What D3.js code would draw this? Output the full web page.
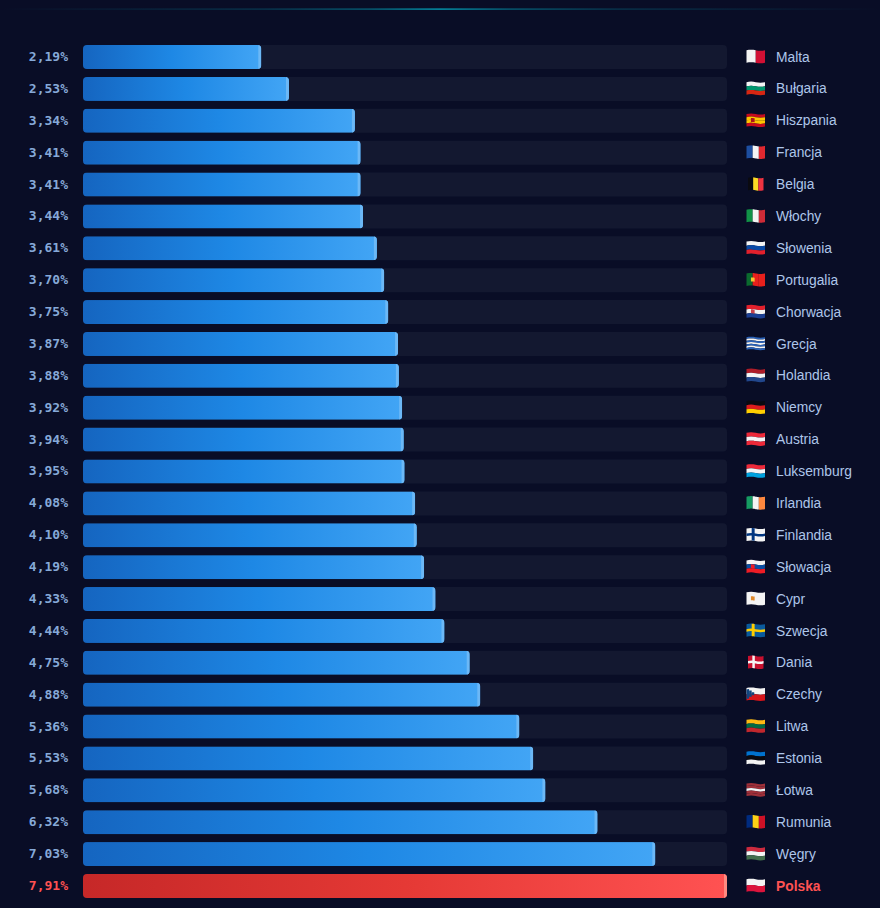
<!DOCTYPE html>
<html lang="pl">
<head>
<meta charset="utf-8">
<title>Kraje UE</title>
<script src="https://cdn.jsdelivr.net/npm/d3@7"></script>
<style>
  html, body { margin: 0; padding: 0; background: #090d26; }
  svg { display: block; }
  .value { font: bold 13px "DejaVu Sans Mono", monospace; fill: #86a9d8; }
  .name { font: 13.8px "Liberation Sans", Arial, sans-serif; fill: #aec6ea; }
  .value.top { fill: #ff5252; }
  .name.top { font-weight: bold; fill: #ff5252; }
</style>
</head>
<body>
<svg id="chart" width="880" height="908"></svg>
<script>
const countries = ["Malta","Bułgaria","Hiszpania","Francja","Belgia","Włochy","Słowenia","Portugalia","Chorwacja","Grecja","Holandia","Niemcy","Austria","Luksemburg","Irlandia","Finlandia","Słowacja","Cypr","Szwecja","Dania","Czechy","Litwa","Estonia","Łotwa","Rumunia","Węgry","Polska"];
const values = [2.19,2.53,3.34,3.41,3.41,3.44,3.61,3.70,3.75,3.87,3.88,3.92,3.94,3.95,4.08,4.10,4.19,4.33,4.44,4.75,4.88,5.36,5.53,5.68,6.32,7.03,7.91];
const highlighted = "Polska";

// Flag designs: h = horizontal stripes, v = vertical stripes,
// cross = Nordic cross [field, cross], wedge = Czech hoist triangle.
const flags = {
  "Malta": {v:["#f4f4f4","#d21034"]},
  "Bułgaria": {h:["#f4f4f4","#00966e","#d62612"]},
  "Hiszpania": {h:["#c60b1e","#ffc400","#ffc400","#c60b1e"], emblem:"#ad1519"},
  "Francja": {v:["#1d4ea0","#f4f4f4","#e1282f"]},
  "Belgia": {v:["#0a0a10","#fdda24","#ef3340"], narrow:true},
  "Włochy": {v:["#119247","#f4f4f4","#ce2b37"]},
  "Słowenia": {h:["#f4f4f4","#0a4aa6","#e2202c"], emblem:"#0a4aa6"},
  "Portugalia": {v:["#0b6a2e","#e8201c","#e8201c"], emblem:"#f4c430"},
  "Chorwacja": {h:["#e2202c","#f4f4f4","#1c3f94"], emblem:"#c8434c"},
  "Grecja": {h:["#2a62b8","#f4f4f4","#2a62b8","#f4f4f4","#2a62b8","#f4f4f4","#2a62b8"]},
  "Holandia": {h:["#ae1c28","#f4f4f4","#21468b"]},
  "Niemcy": {h:["#0a0a10","#dd1c1c","#ffce00"]},
  "Austria": {h:["#ed2939","#f4f4f4","#ed2939"]},
  "Luksemburg": {h:["#ed2939","#f4f4f4","#00a1de"]},
  "Irlandia": {v:["#169b62","#f4f4f4","#ff883e"]},
  "Finlandia": {cross:["#f4f4f4","#003580"]},
  "Słowacja": {h:["#f4f4f4","#0b4ea2","#ee1c25"], emblem:"#ee1c25"},
  "Cypr": {h:["#f4f4f4"], emblem:"#e0892a"},
  "Szwecja": {cross:["#0a5a9c","#fecc00"]},
  "Dania": {cross:["#c8102e","#f4f4f4"], narrow:true},
  "Czechy": {h:["#f4f4f4","#d7141a"], wedge:"#11457e"},
  "Litwa": {h:["#fdb913","#006a44","#c1272d"]},
  "Estonia": {h:["#0072ce","#0a0a10","#f4f4f4"]},
  "Łotwa": {h:["#9e3039","#9e3039","#f4f4f4","#9e3039","#9e3039"]},
  "Rumunia": {v:["#002b7f","#fcd116","#ce1126"]},
  "Węgry": {h:["#cd2a3e","#f4f4f4","#436f4d"]},
  "Polska": {h:["#f4f4f4","#dc143c"]}
};

const W = 880, H = 908;
const svg = d3.select("#chart");
const defs = svg.append("defs");

function gradient(id, stops) {
  const g = defs.append("linearGradient").attr("id", id);
  stops.forEach(([o, c, a]) => g.append("stop").attr("offset", o).attr("stop-color", c).attr("stop-opacity", a ?? 1));
}
gradient("barBlue", [["0%","#1565c0"],["50%","#1e88e5"],["100%","#42a5f5"]]);
gradient("barRed", [["0%","#c62828"],["50%","#e53935"],["100%","#ff5252"]]);
gradient("topGlow", [["0%","#00bcd4",0],["30%","#00bcd4",0.22],["42%","#00bcd4",0.45],["50%","#00bcd4",0.8],["58%","#00bcd4",0.45],["70%","#00bcd4",0.22],["100%","#00bcd4",0]]);

svg.append("rect").attr("width", W).attr("height", H).attr("fill", "#090d26");
svg.append("rect").attr("x", 0).attr("y", 8.4).attr("width", W).attr("height", 1.4).attr("fill", "url(#topGlow)");

const x = d3.scaleLinear().domain([0, d3.max(values)]).range([83, 727]);
const y = d3.scaleBand().domain(countries).range([45, 898]).paddingInner(0.247).paddingOuter(0);
const rows = countries.map((name, i) => ({name, value: values[i], top: name === highlighted}));

const row = svg.append("g").selectAll("g").data(rows).join("g")
  .attr("transform", d => `translate(0,${y(d.name)})`);
const bh = y.bandwidth();

row.append("rect").attr("x", x(0)).attr("width", x.range()[1] - x(0)).attr("height", bh)
  .attr("rx", 4).attr("fill", "#131830");

row.append("clipPath").attr("id", (d, i) => `bar${i}`)
  .append("rect").attr("x", x(0)).attr("width", d => x(d.value) - x(0)).attr("height", bh).attr("rx", 4);

const bar = row.append("g").attr("clip-path", (d, i) => `url(#bar${i})`);
bar.append("rect").attr("x", x(0)).attr("width", d => x(d.value) - x(0)).attr("height", bh)
  .attr("fill", d => d.top ? "url(#barRed)" : "url(#barBlue)");
bar.append("rect").attr("x", d => x(d.value) - 3).attr("width", 3).attr("height", bh)
  .attr("fill", d => d.top ? "#ff8a80" : "#6cb8f6");

const comma = d3.format(".2f");
row.append("text").attr("class", d => d.top ? "value top" : "value")
  .attr("x", 68).attr("y", bh / 2 + 4).attr("text-anchor", "end")
  .text(d => comma(d.value).replace(".", ",") + "%");

row.append("text").attr("class", d => d.top ? "name top" : "name")
  .attr("x", 776).attr("y", bh / 2 + 4.6).text(d => d.name);

// Flags are rectangles bent along a gentle wave so they read as waving cloth.
const FW = 18.5, FH = 12.5;
const wave = u => -0.55 * Math.sin(u * Math.PI * 2);
function patch(u0, v0, u1, v1, w) {
  const us = d3.range(0, 9).map(k => u0 + (u1 - u0) * k / 8);
  const px = u => (FW - w) / 2 + u * w;
  const py = (u, v) => v * FH + wave(u);
  const top = us.map(u => [px(u), py(u, v0)]);
  const bot = us.slice().reverse().map(u => [px(u), py(u, v1)]);
  return "M" + top.concat(bot).map(p => p[0].toFixed(2) + "," + p[1].toFixed(2)).join("L") + "Z";
}
function flagParts(spec) {
  const parts = [];
  if (spec.h) spec.h.forEach((c, k, a) => parts.push([0, k / a.length, 1, (k + 1) / a.length, c]));
  if (spec.v) spec.v.forEach((c, k, a) => parts.push([k / a.length, 0, (k + 1) / a.length, 1, c]));
  if (spec.cross) {
    parts.push([0, 0, 1, 1, spec.cross[0]]);
    parts.push([0.28, 0, 0.44, 1, spec.cross[1]]);
    parts.push([0, 0.4, 1, 0.6, spec.cross[1]]);
  }
  if (spec.wedge) {
    parts.push([0, 0.12, 0.14, 0.88, spec.wedge]);
    parts.push([0.14, 0.25, 0.28, 0.75, spec.wedge]);
    parts.push([0.28, 0.38, 0.42, 0.62, spec.wedge]);
  }
  if (spec.emblem) parts.push([0.24, 0.36, 0.44, 0.68, spec.emblem]);
  return parts;
}
const flag = row.append("g")
  .attr("transform", `translate(746.5,${(bh - FH) / 2 - 0.5})`);
flag.selectAll("path")
  .data(d => {
    const spec = flags[d.name];
    const w = spec.narrow ? 15.5 : FW;
    return flagParts(spec).map(p => ({p, w}));
  })
  .join("path")
  .attr("d", d => patch(d.p[0], d.p[1], d.p[2], d.p[3], d.w))
  .attr("fill", d => d.p[4]);
</script>
</body>
</html>
